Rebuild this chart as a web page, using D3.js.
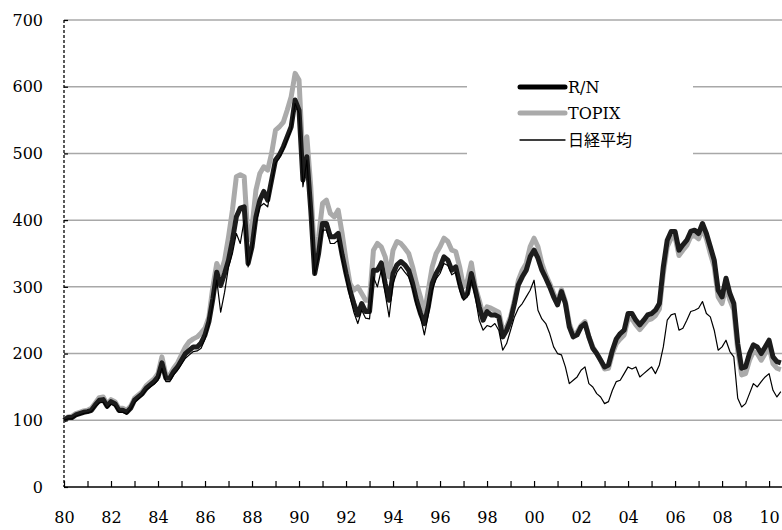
<!DOCTYPE html>
<html>
<head>
<meta charset="utf-8">
<title>R/N TOPIX 日経平均</title>
<script src="https://d3js.org/d3.v7.min.js"></script>
<style>
body { margin: 0; background: #fff; }
text { font-family: "DejaVu Serif", serif; font-size: 16px; fill: #000; }
</style>
</head>
<body>
<script>
var width = 782, height = 530;
var margin = {top: 20, right: 0, bottom: 43, left: 64};

// bi-monthly observations from Jan 1980 (6 per year)
var startYear = 1980, perYear = 6;

var rn = [
  100,104,104,108,110,112, 113,115,123,130,131,121, 128,125,115,115,112,118,
  130,135,140,148,153,158, 165,186,163,163,173,180, 190,200,205,210,210,216,
  228,248,282,322,302,320, 340,370,405,418,420,335, 360,405,430,443,430,460,
  490,498,510,525,540,580, 565,460,495,415,320,350, 395,395,375,375,380,348,
  320,295,275,258,275,263, 263,325,325,336,305,280, 320,333,338,333,325,305,
  280,260,245,270,305,320, 330,345,340,325,330,305, 285,290,320,295,270,250,
  263,258,258,255,225,235, 250,275,303,315,325,345, 355,343,325,313,300,285,
  273,293,275,240,225,228, 240,245,225,208,200,190, 180,183,205,222,230,235,
  260,260,250,243,250,258, 260,265,275,330,370,383, 383,355,363,370,383,385,
  380,395,380,360,340,295, 285,313,290,275,215,178, 180,200,213,210,200,210,
  220,195,188,186
];
var topix = [
  100,105,106,110,112,114, 115,118,126,134,135,124, 131,128,118,118,115,121,
  133,138,143,152,157,162, 170,195,168,168,178,186, 198,210,218,222,225,231,
  238,255,300,335,320,340, 375,415,465,468,465,370, 390,445,470,480,475,500,
  535,540,547,565,585,620, 610,490,525,450,340,375, 425,430,410,405,415,380,
  340,305,295,300,290,280, 280,355,365,360,345,315, 355,368,365,358,350,330,
  305,285,260,295,330,350, 360,373,368,355,353,330, 300,310,336,300,280,258,
  270,268,265,262,235,240, 255,280,310,325,335,360, 373,360,335,318,305,290,
  278,296,278,245,228,232, 242,248,225,210,200,190, 177,178,200,215,222,228,
  252,252,243,236,243,250, 252,257,267,320,360,373, 375,347,355,362,375,377,
  372,387,372,350,330,285, 275,300,280,265,205,168, 170,190,203,200,190,200,
  210,185,178,176
];
var nikkei = [
  100,102,102,106,108,110, 111,113,120,126,127,118, 124,121,112,112,109,116,
  126,132,137,145,150,154, 160,178,158,158,168,175, 184,193,198,203,204,208,
  222,242,275,310,262,292, 330,350,380,365,400,330, 355,395,420,425,420,455,
  485,493,505,520,535,575, 560,450,490,405,318,345, 385,385,365,365,370,340,
  312,285,262,245,265,253, 252,315,300,325,290,255, 305,322,330,322,315,298,
  272,255,228,258,295,312, 320,335,332,318,322,295, 280,285,310,285,250,235,
  242,240,245,235,205,215, 235,255,268,275,285,295, 310,265,252,245,230,210,
  200,198,180,155,160,165, 175,180,155,150,140,135, 125,128,145,158,160,170,
  180,177,180,165,170,175, 180,170,183,210,250,258, 260,235,238,250,263,265,
  268,278,260,255,235,205, 210,220,203,195,133,120, 125,140,155,150,158,165,
  170,145,135,143
];

var yTicks = [0, 100, 200, 300, 400, 500, 600, 700];
var xYears = d3.range(1980, 2011);
var seriesNames = ["R/N", "TOPIX", "日経平均"];

var dates = rn.map(function(d, i){ return startYear + i / perYear; });

var svg = d3.select("body").append("svg")
  .attr("width", width).attr("height", height);

var x = d3.scaleLinear().domain([1980, 2010.55]).range([margin.left, width - margin.right]);
var y = d3.scaleLinear().domain([0, 700]).range([height - margin.bottom, margin.top]);

// gridlines
svg.append("g").selectAll("line")
  .data(yTicks.filter(function(d){ return d > 0; }))
  .enter().append("line")
  .attr("x1", x(1980)).attr("x2", width)
  .attr("y1", function(d){ return y(d); }).attr("y2", function(d){ return y(d); })
  .attr("stroke", "#a8a8a8").attr("stroke-width", 1.5);

// y axis
var yAxis = d3.axisRight(y).tickValues(yTicks).tickSize(4).tickFormat("");
var gy = svg.append("g").attr("transform", "translate(" + x(1980) + ",0)").call(yAxis);
gy.select(".domain").remove();
gy.selectAll(".tick line").attr("stroke", "#000").attr("stroke-width", 1.2);
svg.append("line")
  .attr("x1", x(1980)).attr("x2", x(1980))
  .attr("y1", y(700)).attr("y2", y(0))
  .attr("stroke", "#000").attr("stroke-width", 1.3)
  .attr("stroke-dasharray", "3,2");
svg.append("g").selectAll("text")
  .data(yTicks).enter().append("text")
  .attr("x", 43).attr("y", function(d){ return y(d); })
  .attr("dy", "0.36em").attr("text-anchor", "end")
  .text(function(d){ return d; });

// x axis
var xAxis = d3.axisBottom(x).tickValues(xYears).tickSize(-6).tickPadding(25)
  .tickFormat(function(d){ return d % 2 === 0 ? String(d % 100).padStart(2, "0") : ""; });
var gx = svg.append("g").attr("transform", "translate(0," + y(0) + ")").call(xAxis);
gx.select(".domain").attr("d", "M" + x(1980) + ",0H" + width).attr("stroke", "#000").attr("stroke-width", 1.6);
gx.selectAll(".tick line").attr("stroke", "#000").attr("stroke-width", 1.2);
gx.selectAll(".tick text").style("font-family", "DejaVu Serif, serif").style("font-size", "16px");
gx.attr("font-family", null).attr("font-size", null);

// lines
var line = d3.line()
  .x(function(d, i){ return x(dates[i]); })
  .y(function(d){ return y(d); });

svg.append("path").datum(topix)
  .attr("d", line).attr("fill", "none")
  .attr("stroke", "#aaaaaa").attr("stroke-width", 5).attr("stroke-linejoin", "round");
svg.append("path").datum(rn)
  .attr("d", line).attr("fill", "none")
  .attr("stroke", "#1c1c1c").attr("stroke-width", 5).attr("stroke-linejoin", "round");
svg.append("path").datum(nikkei)
  .attr("d", line).attr("fill", "none")
  .attr("stroke", "#000").attr("stroke-width", 1.2).attr("stroke-linejoin", "round");

// legend
var lg = svg.append("g");
lg.append("rect").attr("x", 467).attr("y", 72).attr("width", 226).attr("height", 88).attr("fill", "#fff");
var legendStyle = [
  {stroke: "#000", w: 5, y: 87},
  {stroke: "#aaaaaa", w: 5, y: 113},
  {stroke: "#000", w: 1.3, y: 140}
];
legendStyle.forEach(function(s, i){
  lg.append("line").attr("x1", 520).attr("x2", 565)
    .attr("y1", s.y).attr("y2", s.y)
    .attr("stroke", s.stroke).attr("stroke-width", s.w).attr("stroke-linecap", "round");
  lg.append("text").attr("x", 568).attr("y", s.y).attr("dy", "0.36em")
    .style("font-family", i === 2 ? "'Noto Sans CJK JP', sans-serif" : "'DejaVu Serif', serif")
    .style("font-size", "16px")
    .text(seriesNames[i]);
});
</script>
</body>
</html>
